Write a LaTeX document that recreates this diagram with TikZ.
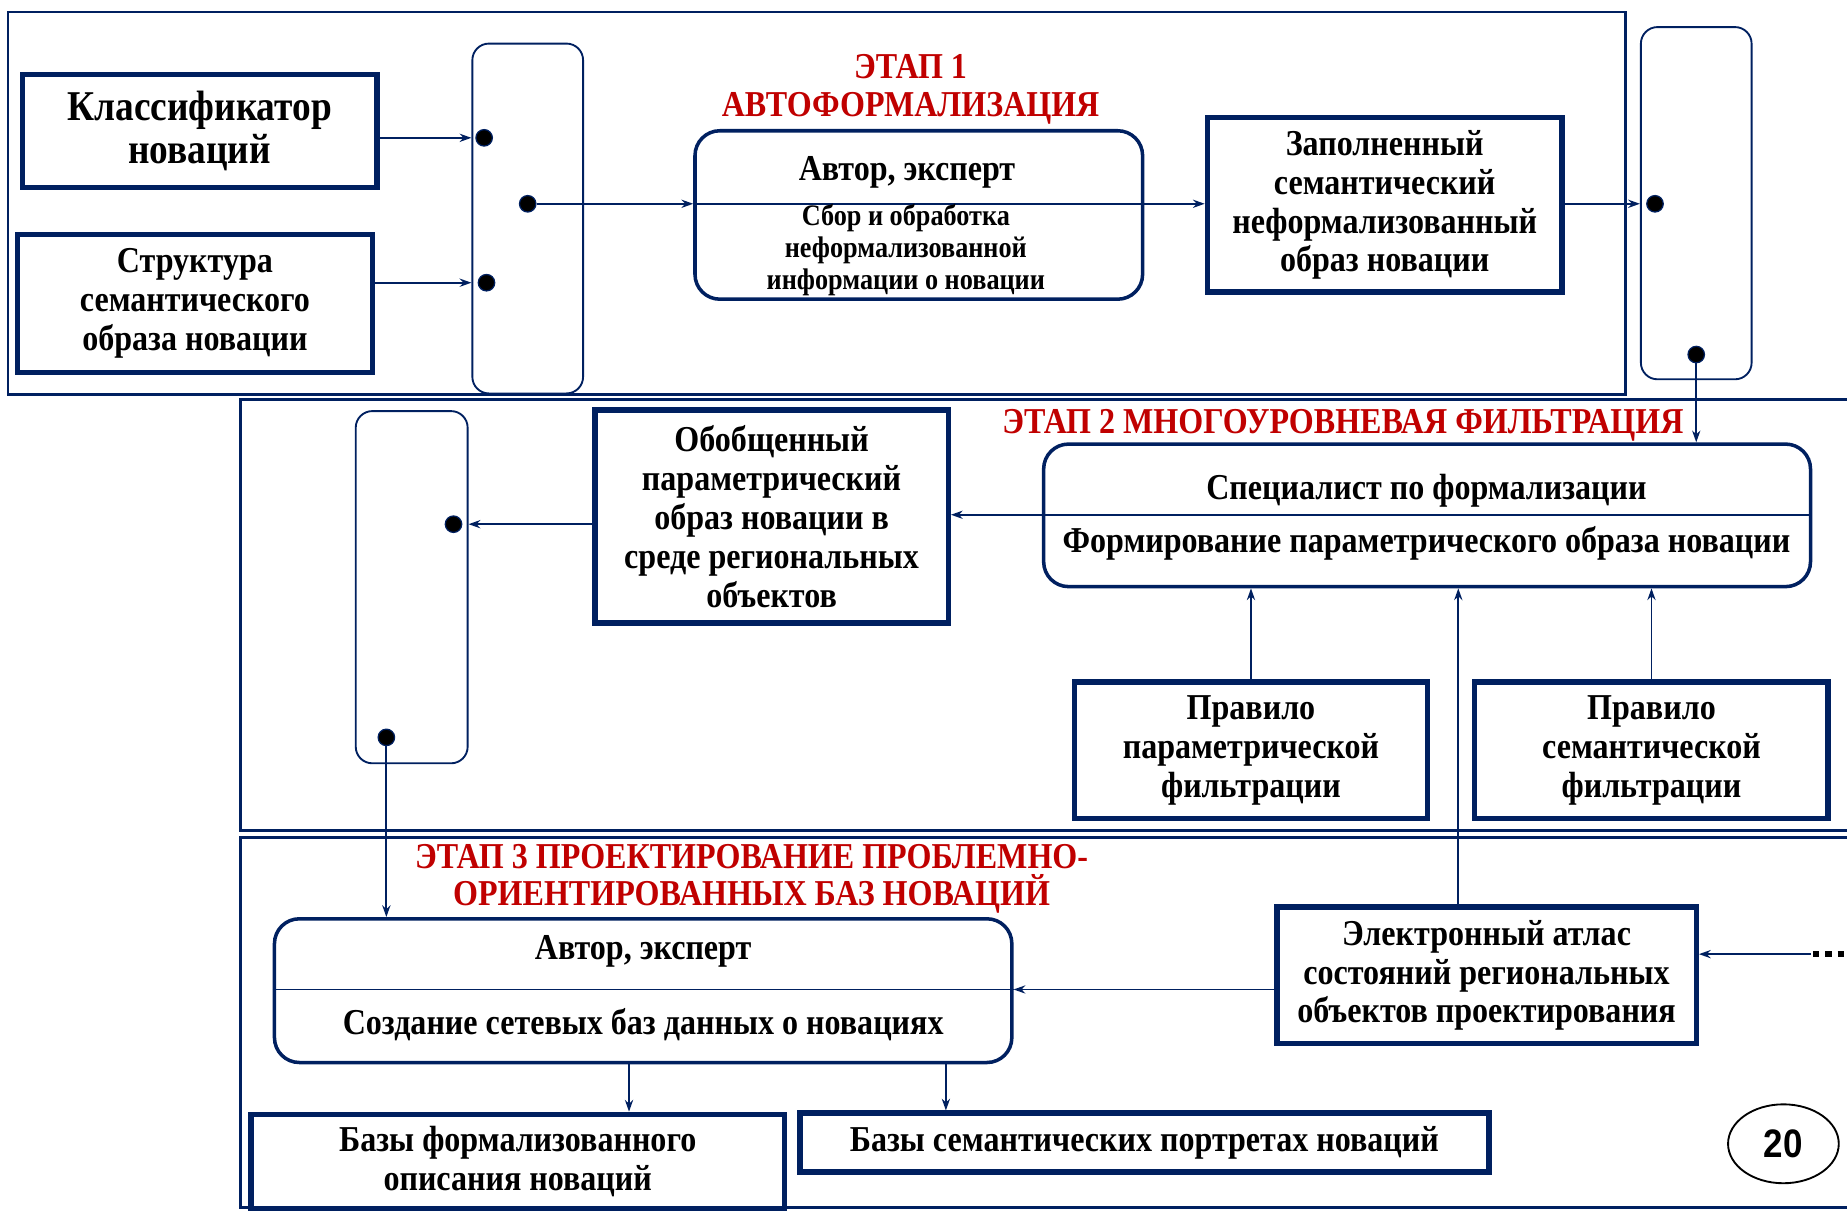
\documentclass[tikz,border=0pt]{standalone}
\usepackage{fontspec}
\setmainfont{Liberation Serif}[FakeStretch=0.88]
\newfontfamily\pagefont{Liberation Sans}[FakeStretch=0.88]
\usetikzlibrary{positioning,calc,arrows.meta,shapes.geometric}
\definecolor{navy}{HTML}{002060}
\definecolor{stagered}{HTML}{C00000}

\begin{document}
\begin{tikzpicture}[
    txt/.style={font=\bfseries\fontsize{8.8}{9.4}\selectfont, align=center},
    smalltxt/.style={font=\bfseries\fontsize{7.2}{7.7}\selectfont, align=center},
    title/.style={text=stagered, font=\bfseries\fontsize{8.8}{9.1}\selectfont, align=center},
    frame/.style={draw=navy, line width=0.6pt},
    thickbox/.style={draw=navy, line width=1.3pt, inner sep=0pt, txt},
    procbox/.style={draw=navy, line width=0.85pt, rounded corners=6pt, inner sep=0pt},
    bus/.style={draw=navy, line width=0.45pt, rounded corners=4pt, inner sep=0pt},
    dot/.style={circle, fill=black, draw=navy, line width=0.3pt, inner sep=0pt, minimum size=0.14cm},
    flow/.style={draw=navy, line width=0.42pt, -{Stealth[length=1mm, width=0.7mm]}}
]
    \useasboundingbox (0,0) rectangle (15.68,-10.28);

    % Stage frames
    \draw[frame] (0.07,-0.10) rectangle (13.80,-3.35);
    \draw[frame] (15.70,-3.39) -- (2.04,-3.39) -- (2.04,-7.05) -- (15.70,-7.05);
    \draw[frame] (15.70,-7.11) -- (2.04,-7.11) -- (2.04,-10.25) -- (15.70,-10.25);

    % Stage 1
    \node[title] (stage1) at (7.73,-0.76) {ЭТАП 1\\АВТОФОРМАЛИЗАЦИЯ};
    \node[thickbox, minimum width=3.01cm, minimum height=0.96cm, font=\bfseries\fontsize{10.25}{10.3}\selectfont] (klass) at (1.695,-1.11) {Классификатор\\новаций};
    \node[thickbox, minimum width=3.01cm, minimum height=1.17cm] (struct) at (1.655,-2.575) {Структура\\семантического\\образа новации};
    \node[bus, minimum width=0.94cm, minimum height=2.97cm] (bus1) at (4.48,-1.855) {};
    \node[dot] (d1a) at (4.11,-1.17) {};
    \node[dot] (d1b) at (4.48,-1.73) {};
    \node[dot] (d1c) at (4.13,-2.40) {};
    \node[procbox, minimum width=3.80cm, minimum height=1.43cm] (autor1) at (7.80,-1.825) {};
    \draw[navy, line width=0.42pt] (autor1.west |- d1b) -- (autor1.east |- d1b);
    \node[txt] (role1) at (7.70,-1.46) {Автор, эксперт};
    \node[smalltxt] (task1) at (7.69,-2.12) {Сбор и обработка\\неформализованной\\информации о новации};
    \node[thickbox, minimum width=3.01cm, minimum height=1.48cm] (filled) at (11.755,-1.74) {Заполненный\\семантический\\неформализованный\\образ новации};
    \node[bus, minimum width=0.94cm, minimum height=2.99cm] (bus2) at (14.40,-1.725) {};
    \node[dot] (d2a) at (14.05,-1.73) {};
    \node[dot] (d2b) at (14.40,-3.01) {};

    % Stage 2
    \node[title] (stage2) at (11.40,-3.61) {ЭТАП 2 МНОГОУРОВНЕВАЯ ФИЛЬТРАЦИЯ};
    \node[procbox, minimum width=6.51cm, minimum height=1.21cm] (spec) at (12.115,-4.375) {};
    \coordinate (div2) at (12.115,-4.37);
    \draw[navy, line width=0.42pt] (spec.west |- div2) -- (spec.east |- div2);
    \node[txt] (role2) at (12.11,-4.17) {Специалист по формализации};
    \node[txt] (task2) at (12.11,-4.61) {Формирование параметрического образа новации};
    \node[thickbox, minimum width=3.00cm, minimum height=1.81cm] (general) at (6.55,-4.385) {Обобщенный\\параметрический\\образ новации в\\среде региональных\\объектов};
    \node[bus, minimum width=0.95cm, minimum height=2.99cm] (bus3) at (3.495,-4.985) {};
    \node[dot] (d3a) at (3.85,-4.45) {};
    \node[dot] (d3b) at (3.28,-6.26) {};
    \node[thickbox, minimum width=3.00cm, minimum height=1.16cm] (rule1) at (10.62,-6.37) {Правило\\параметрической\\фильтрации};
    \node[thickbox, minimum width=3.00cm, minimum height=1.16cm] (rule2) at (14.02,-6.37) {Правило\\семантической\\фильтрации};

    % Stage 3
    \node[title] (stage3) at (6.38,-7.46) {ЭТАП 3 ПРОЕКТИРОВАНИЕ ПРОБЛЕМНО-\\ОРИЕНТИРОВАННЫХ БАЗ НОВАЦИЙ};
    \node[procbox, minimum width=6.26cm, minimum height=1.22cm] (autor3) at (5.46,-8.41) {};
    \coordinate (div3) at (5.46,-8.40);
    \draw[navy, line width=0.42pt] (autor3.west |- div3) -- (autor3.east |- div3);
    \node[txt] (role3) at (5.46,-8.08) {Автор, эксперт};
    \node[txt] (task3) at (5.46,-8.70) {Создание сетевых баз данных о новациях};
    \node[thickbox, minimum width=3.56cm, minimum height=1.16cm] (atlas) at (12.62,-8.28) {Электронный атлас\\состояний региональных\\объектов проектирования};
    \coordinate (more) at (15.37,-8.10);
    \draw[black, line width=1.5pt, dash pattern=on 0.055cm off 0.05cm] ([xshift=0.02cm]more) -- (15.70,-8.10);
    \node[thickbox, minimum width=4.53cm, minimum height=0.80cm] (base1) at (4.395,-9.86) {Базы формализованного\\описания новаций};
    \node[thickbox, minimum width=5.85cm, minimum height=0.50cm] (base2) at (9.715,-9.70) {Базы семантических портретах новаций};
    \node[draw=black, line width=0.45pt, ellipse, minimum width=0.94cm, minimum height=0.67cm, inner sep=0pt, font=\pagefont\bfseries\fontsize{9.6}{10}\selectfont] (page) at (15.14,-9.71) {20};

    % Connectors
    \draw[flow] (klass.east |- d1a) -- (d1a -| bus1.west);
    \draw[flow] (struct.east |- d1c) -- (d1c -| bus1.west);
    \draw[flow] (d1b) -- (d1b -| autor1.west);
    \draw[flow] (d1b -| autor1.east) -- (d1b -| filled.west);
    \draw[flow] (filled.east |- d2a) -- (d2a -| bus2.west);
    \draw[flow] (d2b) -- (d2b |- spec.north);
    \draw[flow] (spec.west |- div2) -- (div2 -| general.east);
    \draw[flow] (general.west |- d3a) -- (d3a -| bus3.east);
    \draw[flow] (d3b) -- (d3b |- autor3.north);
    \draw[flow] (rule1.north) -- (rule1.north |- spec.south);
    \draw[flow] (rule2.north) -- (rule2.north |- spec.south);
    \draw[flow] ([xshift=-0.24cm]atlas.north) -- ([xshift=-0.24cm]atlas.north |- spec.south);
    \draw[flow] (atlas.west |- div3) -- (div3 -| autor3.east);
    \draw[flow] (more) -- (more -| atlas.east);
    \draw[flow] ([xshift=-0.12cm]autor3.south) -- ([xshift=-0.12cm]autor3.south |- base1.north);
    \draw[flow] ([xshift=2.57cm]autor3.south) -- ([xshift=2.57cm]autor3.south |- base2.north);
\end{tikzpicture}
\end{document}
